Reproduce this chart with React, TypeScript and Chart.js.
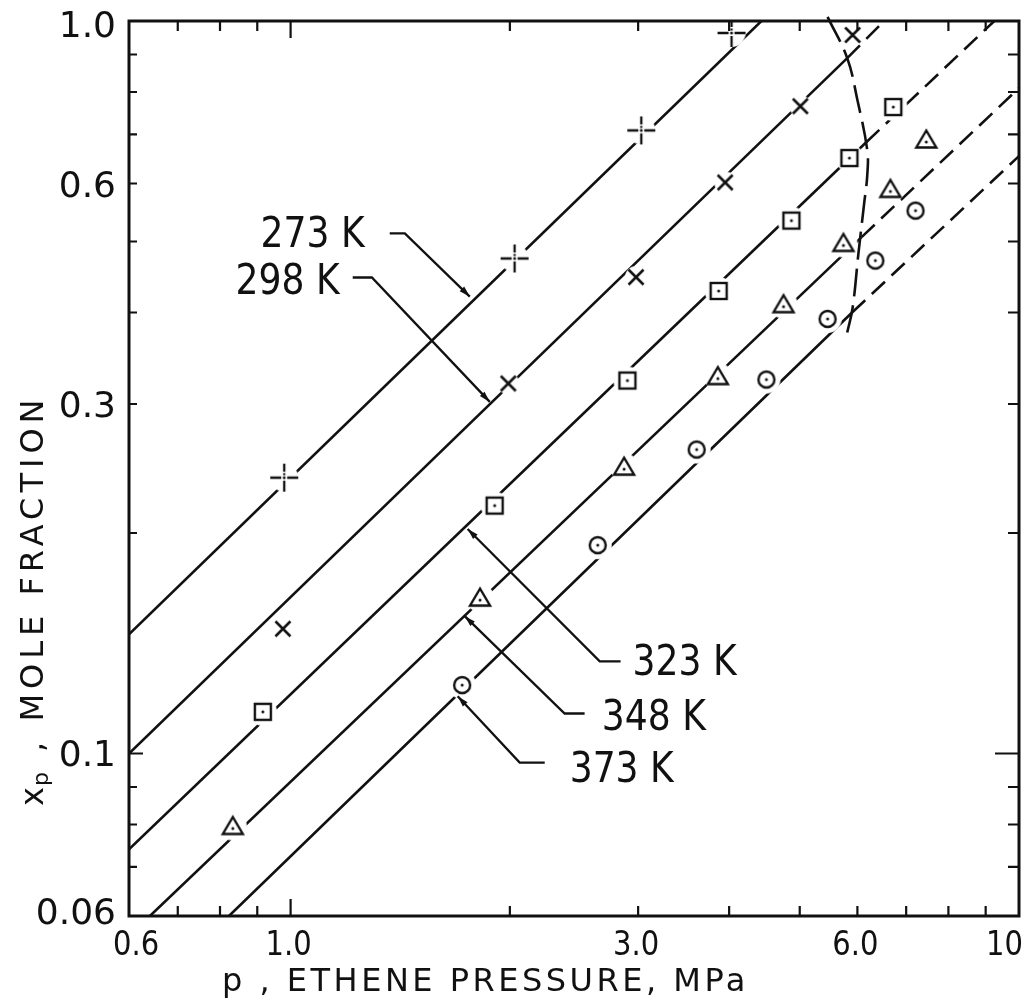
import React, { useEffect, useRef } from 'react';
import { Chart, registerables } from 'chart.js';

Chart.register(...registerables);

const INK = '#111111';

// ---- axis ranges ----
const P_MIN = 0.6;
const P_MAX = 10;
const XP_MIN = 0.06;
const XP_MAX = 1.0;

// ---- measured points (p in MPa, x_p mole fraction) ----
const p273 = [0.98, 2.03, 3.03, 4.03];
const x273 = [0.238, 0.474, 0.709, 0.963];
const p298 = [0.976, 1.99, 2.98, 3.95, 5.01, 5.91];
const x298 = [0.148, 0.32, 0.447, 0.602, 0.765, 0.957];
const p323 = [0.916, 1.906, 2.9, 3.87, 4.87, 5.85, 6.72];
const x323 = [0.114, 0.218, 0.323, 0.428, 0.534, 0.65, 0.763];
const p348 = [0.833, 1.82, 2.87, 3.86, 4.75, 5.74, 6.66, 7.46];
const x348 = [0.0795, 0.163, 0.246, 0.327, 0.41, 0.497, 0.589, 0.688];
const p373 = [1.72, 2.64, 3.61, 4.5, 5.46, 6.35, 7.21];
const x373 = [0.124, 0.1925, 0.26, 0.324, 0.392, 0.471, 0.551];

// ---- correlation lines: [start, phase boundary, end] (solid then dashed) ----
const line273P = [0.6, 4.43];
const line273X = [0.1455, 1.0];
const line298P = [0.6, 5.81, 6.53];
const line298X = [0.1, 0.89, 1.0];
const line323P = [0.6, 6.17, 9.25];
const line323X = [0.074, 0.683, 1.0];
const line348P = [0.641, 6.08, 10];
const line348X = [0.06, 0.507, 0.81];
const line373P = [0.823, 5.9, 10];
const line373X = [0.06, 0.4, 0.654];

// ---- phase boundary (dashed curve) ----
const boundaryP = [5.46, 5.81, 6.0, 6.19, 6.19, 6.13, 6.02, 5.91, 5.81];
const boundaryX = [1.013, 0.89, 0.78, 0.666, 0.616, 0.564, 0.482, 0.406, 0.3755];

// ---- ticks ----
const xTickVals = [0.6, 1, 3, 6, 10];
const xTickText = ['0.6', '1.0', '3.0', '6.0', '10'];
const yTickVals = [1, 0.6, 0.3, 0.1, 0.06];
const yTickText = ['1.0', '0.6', '0.3', '0.1', '0.06'];
const xMinorTicks = [0.7, 0.8, 0.9, 1, 2, 3, 4, 5, 6, 7, 8, 9];
const yMinorTicks = [0.07, 0.08, 0.09, 0.1, 0.2, 0.3, 0.4, 0.5, 0.6, 0.7, 0.8, 0.9];
const xLongTicks = [1];
const yLongTicks = [0.1];

// ---- temperature labels with leader lines (data coordinates) ----
const labelTexts = ['273 K', '298 K', '323 K', '348 K', '373 K'];
const labelP = [1.264, 1.168, 2.948, 2.674, 2.416];
const labelX = [0.5145, 0.445, 0.134, 0.1127, 0.0957];
const labelAlign = ['right', 'right', 'left', 'left', 'left'];
const leaderP = [
  [1.368, 1.435, 1.762],
  [1.217, 1.293, 1.877],
  [2.838, 2.657, 1.75],
  [2.533, 2.378, 1.734],
  [2.233, 2.063, 1.696],
];
const leaderX = [
  [0.513, 0.513, 0.4205],
  [0.4465, 0.4465, 0.302],
  [0.1336, 0.1336, 0.2025],
  [0.1134, 0.1134, 0.154],
  [0.0972, 0.0972, 0.1197],
];

const X_TITLE = 'p , ETHENE PRESSURE, MPa';
const Y_TITLE_MAIN = 'x';
const Y_TITLE_SUB = 'p';
const Y_TITLE_REST = ' , MOLE FRACTION';

function makeMarker(kind: string): HTMLCanvasElement {
  const c = document.createElement('canvas');
  c.width = 36;
  c.height = 36;
  const g = c.getContext('2d')!;
  g.translate(18, 18);
  g.fillStyle = '#ffffff';
  g.beginPath();
  g.arc(0, 0, kind === 'cross' ? 11 : 14, 0, Math.PI * 2);
  g.fill();
  g.strokeStyle = INK;
  g.fillStyle = INK;
  g.lineWidth = 2.4;
  const dot = (cx: number, cy: number) => {
    g.beginPath();
    g.arc(cx, cy, 1.5, 0, Math.PI * 2);
    g.fill();
  };
  if (kind === 'plus') {
    g.lineWidth = 2.3;
    g.beginPath();
    g.moveTo(-14, 0); g.lineTo(-3, 0);
    g.moveTo(3, 0); g.lineTo(14, 0);
    g.moveTo(0, -14); g.lineTo(0, -6);
    g.moveTo(0, -4.5); g.lineTo(0, -2.5);
    g.moveTo(0, 3); g.lineTo(0, 14);
    g.stroke();
    dot(0, 0);
  } else if (kind === 'cross') {
    g.lineWidth = 2.6;
    g.beginPath();
    g.moveTo(-7.5, -7.5); g.lineTo(7.5, 7.5);
    g.moveTo(-7.5, 7.5); g.lineTo(7.5, -7.5);
    g.stroke();
  } else if (kind === 'square') {
    g.strokeRect(-8, -8, 16, 16);
    dot(0, 0);
  } else if (kind === 'triangle') {
    g.beginPath();
    g.moveTo(0, -9.5);
    g.lineTo(10, 7.5);
    g.lineTo(-10, 7.5);
    g.closePath();
    g.stroke();
    dot(0, 2);
  } else {
    g.beginPath();
    g.arc(0, 0, 8, 0, Math.PI * 2);
    g.stroke();
    dot(0, 0);
  }
  return c;
}

const toPts = (ps: number[], xs: number[]) => ps.map((p, i) => ({ x: p, y: xs[i] }));

const axisPlugin = {
  id: 'axisDecor',
  afterDatasetsDraw(chart: any) {
    const { ctx, chartArea: a, scales } = chart;
    const sx = scales.x;
    const sy = scales.y;
    ctx.save();
    ctx.strokeStyle = INK;
    ctx.fillStyle = INK;
    ctx.lineWidth = 3;
    ctx.strokeRect(a.left, a.top, a.right - a.left, a.bottom - a.top);

    // inward ticks
    ctx.lineWidth = 2.2;
    ctx.beginPath();
    xMinorTicks.forEach((v) => {
      const px = sx.getPixelForValue(v);
      const len = xLongTicks.includes(v) ? 17 : 10;
      ctx.moveTo(px, a.bottom);
      ctx.lineTo(px, a.bottom - len);
      ctx.moveTo(px, a.top);
      ctx.lineTo(px, a.top + len);
    });
    yMinorTicks.forEach((v) => {
      const py = sy.getPixelForValue(v);
      const long = yLongTicks.includes(v);
      ctx.moveTo(a.left, py);
      ctx.lineTo(a.left + (long ? 14 : 8), py);
      ctx.moveTo(a.right, py);
      ctx.lineTo(a.right - (long ? 24 : 11), py);
    });
    ctx.stroke();

    // x tick labels (narrow lettering)
    ctx.font = '33px "DejaVu Sans"';
    ctx.textBaseline = 'alphabetic';
    ctx.textAlign = 'left';
    const xs = 0.88;
    xTickVals.forEach((v, i) => {
      const t = xTickText[i];
      const w = ctx.measureText(t).width * xs;
      let left = sx.getPixelForValue(v) - w / 2 - 2;
      left = Math.max(left, a.left - 16);
      left = Math.min(left, a.right + 4 - w);
      ctx.save();
      ctx.translate(left, a.bottom + 39);
      ctx.scale(xs, 1);
      ctx.fillText(t, 0, 0);
      ctx.restore();
    });

    // y tick labels
    ctx.font = '36px "DejaVu Sans"';
    ctx.textAlign = 'right';
    yTickVals.forEach((v, i) => {
      let py = sy.getPixelForValue(v);
      py = Math.max(py, a.top + 3);
      py = Math.min(py, a.bottom - 5);
      ctx.fillText(yTickText[i], a.left - 13, py + 13);
    });

    // x axis title
    ctx.font = '32px "DejaVu Sans"';
    ctx.textAlign = 'left';
    (ctx as any).letterSpacing = '3.5px';
    ctx.fillText(X_TITLE, a.left + 93, a.bottom + 75);

    // y axis title (rotated)
    (ctx as any).letterSpacing = '5px';
    ctx.save();
    ctx.translate(a.left - 86, a.bottom - 110);
    ctx.rotate(-Math.PI / 2);
    ctx.font = '32px "DejaVu Sans"';
    let cx = 0;
    ctx.fillText(Y_TITLE_MAIN, cx, 0);
    cx += ctx.measureText(Y_TITLE_MAIN).width;
    ctx.font = '22px "DejaVu Sans"';
    ctx.fillText(Y_TITLE_SUB, cx - 4, 5);
    cx += ctx.measureText(Y_TITLE_SUB).width - 4;
    ctx.font = '32px "DejaVu Sans"';
    ctx.fillText(Y_TITLE_REST, cx, 0);
    ctx.restore();
    (ctx as any).letterSpacing = '0px';

    // temperature labels + leaders
    ctx.lineWidth = 2.3;
    labelTexts.forEach((t, i) => {
      const pts = leaderP[i].map((p, j) => [sx.getPixelForValue(p), sy.getPixelForValue(leaderX[i][j])]);
      ctx.beginPath();
      ctx.moveTo(pts[0][0], pts[0][1]);
      for (let j = 1; j < pts.length; j++) ctx.lineTo(pts[j][0], pts[j][1]);
      ctx.stroke();
      // arrow head at the tip
      const tip = pts[pts.length - 1];
      const prev = pts[pts.length - 2];
      const ang = Math.atan2(tip[1] - prev[1], tip[0] - prev[0]);
      const L = 11;
      const W = 3.2;
      const bx = tip[0] - L * Math.cos(ang);
      const by = tip[1] - L * Math.sin(ang);
      ctx.beginPath();
      ctx.moveTo(tip[0], tip[1]);
      ctx.lineTo(bx + W * Math.sin(ang), by - W * Math.cos(ang));
      ctx.lineTo(bx - W * Math.sin(ang), by + W * Math.cos(ang));
      ctx.closePath();
      ctx.fill();

      const tx = sx.getPixelForValue(labelP[i]);
      const ty = sy.getPixelForValue(labelX[i]);
      ctx.save();
      ctx.font = '42px "DejaVu Sans"';
      ctx.textAlign = labelAlign[i] as CanvasTextAlign;
      ctx.translate(tx, ty + 15);
      ctx.scale(0.86, 1);
      ctx.fillText(t, 0, 0);
      ctx.restore();
    });
    ctx.restore();
  },
};

export default function App() {
  const ref = useRef<HTMLCanvasElement>(null);
  useEffect(() => {
    const canvas = ref.current!;
    const mk = {
      plus: makeMarker('plus'),
      cross: makeMarker('cross'),
      square: makeMarker('square'),
      triangle: makeMarker('triangle'),
      circle: makeMarker('circle'),
    };
    const lineDs = (ps: number[], xs: number[], dash: number[]) => ({
      data: toPts(ps, xs),
      showLine: true,
      borderColor: INK,
      borderWidth: 2.6,
      borderDash: dash,
      pointRadius: 0,
      fill: false,
      order: 2,
    });
    const solid = (ps: number[], xs: number[]) => lineDs(ps.slice(0, 2), xs.slice(0, 2), []);
    const dashed = (ps: number[], xs: number[]) => lineDs(ps.slice(1, 3), xs.slice(1, 3), [18, 9]);
    const markDs = (ps: number[], xs: number[], img: HTMLCanvasElement) => ({
      data: toPts(ps, xs),
      showLine: false,
      pointStyle: img,
      pointRadius: 8,
      order: 0,
    });

    const chart = new Chart(canvas, {
      type: 'scatter',
      data: {
        datasets: [
          solid(line273P, line273X),
          solid(line298P, line298X),
          dashed(line298P, line298X),
          solid(line323P, line323X),
          dashed(line323P, line323X),
          solid(line348P, line348X),
          dashed(line348P, line348X),
          solid(line373P, line373X),
          dashed(line373P, line373X),
          {
            data: toPts(boundaryP, boundaryX),
            showLine: true,
            borderColor: INK,
            borderWidth: 2.6,
            borderDash: [28, 9],
            tension: 0.4,
            pointRadius: 0,
            fill: false,
            clip: 8,
            order: 1,
          } as any,
          markDs(p273, x273, mk.plus),
          markDs(p298, x298, mk.cross),
          markDs(p323, x323, mk.square),
          markDs(p348, x348, mk.triangle),
          markDs(p373, x373, mk.circle),
        ] as any,
      },
      options: {
        animation: false,
        responsive: false,
        devicePixelRatio: 1,
        events: [],
        layout: { padding: { left: 129, top: 21, right: 9, bottom: 91 } },
        plugins: { legend: { display: false }, tooltip: { enabled: false } },
        scales: {
          x: { type: 'logarithmic', min: P_MIN, max: P_MAX, display: false },
          y: { type: 'logarithmic', min: XP_MIN, max: XP_MAX, display: false },
        },
      },
      plugins: [axisPlugin],
    });
    return () => chart.destroy();
  }, []);

  return (
    <div style={{ position: 'fixed', left: 0, top: 0, width: 1028, height: 1007, background: '#ffffff' }}>
      <canvas ref={ref} width={1028} height={1007} style={{ display: 'block' }} />
    </div>
  );
}
